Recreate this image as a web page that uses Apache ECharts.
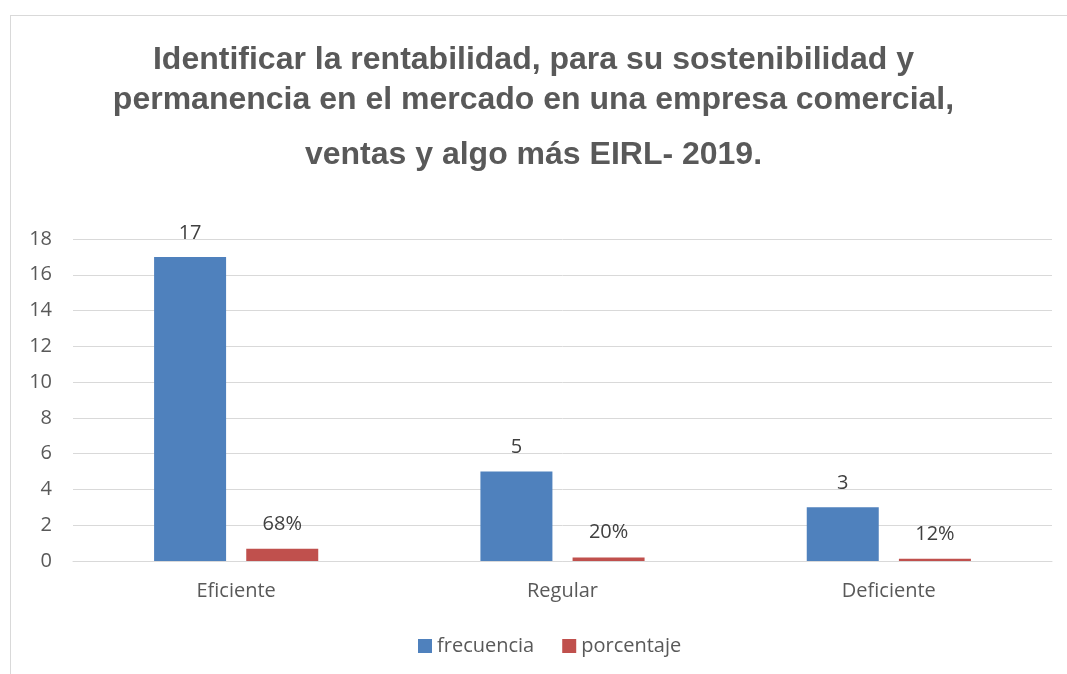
<!DOCTYPE html>
<html>
<head>
<meta charset="utf-8">
<script src="https://cdn.jsdelivr.net/npm/echarts@6/dist/echarts.min.js"></script>
<style>
  html, body { margin: 0; padding: 0; background: #fff; }
  #frame { position: absolute; left: 10px; top: 15px; width: 1070px; height: 670px; border: 1px solid #d9d9d9; }
  #chart { position: absolute; left: 0; top: 0; width: 1067px; height: 674px; }
</style>
</head>
<body>
<div id="frame"></div>
<div id="chart"></div>
<script>
// categorías y valores
let categories = ['Eficiente', 'Regular', 'Deficiente'];
let frecuencia = [17, 5, 3];
let porcentaje = [0.68, 0.20, 0.12];
let porcentajeLabels = ['68%', '20%', '12%'];
let yTicks = {min: 0, max: 18, interval: 2};

let chart = echarts.init(document.getElementById('chart'));
let labelFont = '"Open Sans", "Noto Sans", sans-serif';
let titleStyle = {
  fontFamily: '"Liberation Sans", Arial, sans-serif',
  fontWeight: 'bold',
  fontSize: 32,
  color: '#595959',
  lineHeight: 40
};

let option = {
  animation: false,
  title: [
    {
      text: 'Identificar la rentabilidad, para su sostenibilidad y\npermanencia en el mercado en una empresa comercial,',
      left: 'center',
      top: 35,
      textStyle: titleStyle
    },
    {
      text: 'ventas y algo más EIRL- 2019.',
      left: 'center',
      top: 130,
      textStyle: titleStyle
    }
  ],
  legend: {
    bottom: 13,
    left: 413,
    itemWidth: 14,
    itemHeight: 14,
    itemGap: 28,
    icon: 'rect',
    textStyle: {fontFamily: labelFont, fontSize: 20, color: '#595959'},
    data: ['frecuencia', 'porcentaje']
  },
  grid: {left: 73, right: 15, top: 239, bottom: 113, containLabel: false},
  xAxis: {
    type: 'category',
    data: categories,
    axisLine: {lineStyle: {color: '#d9d9d9'}},
    axisTick: {show: false},
    axisLabel: {fontFamily: labelFont, fontSize: 20, color: '#595959', margin: 20}
  },
  yAxis: {
    type: 'value',
    min: yTicks.min,
    max: yTicks.max,
    interval: yTicks.interval,
    axisLine: {show: false},
    axisTick: {show: false},
    splitLine: {lineStyle: {color: '#d9d9d9', width: 1}},
    axisLabel: {fontFamily: labelFont, fontSize: 20, color: '#595959', margin: 21}
  },
  series: [
    {
      name: 'frecuencia',
      type: 'bar',
      data: frecuencia,
      barWidth: 72,
      barGap: '28%',
      itemStyle: {color: '#4f81bd'},
      label: {show: true, position: 'top', distance: 14, fontFamily: labelFont, fontSize: 20, color: '#404040'}
    },
    {
      name: 'porcentaje',
      type: 'bar',
      data: porcentaje,
      barWidth: 72,
      itemStyle: {color: '#c0504d'},
      label: {
        show: true,
        position: 'top',
        distance: 15,
        fontFamily: labelFont,
        fontSize: 20,
        color: '#404040',
        formatter: function (p) { return porcentajeLabels[p.dataIndex]; }
      }
    }
  ]
};
chart.setOption(option);
</script>
</body>
</html>
